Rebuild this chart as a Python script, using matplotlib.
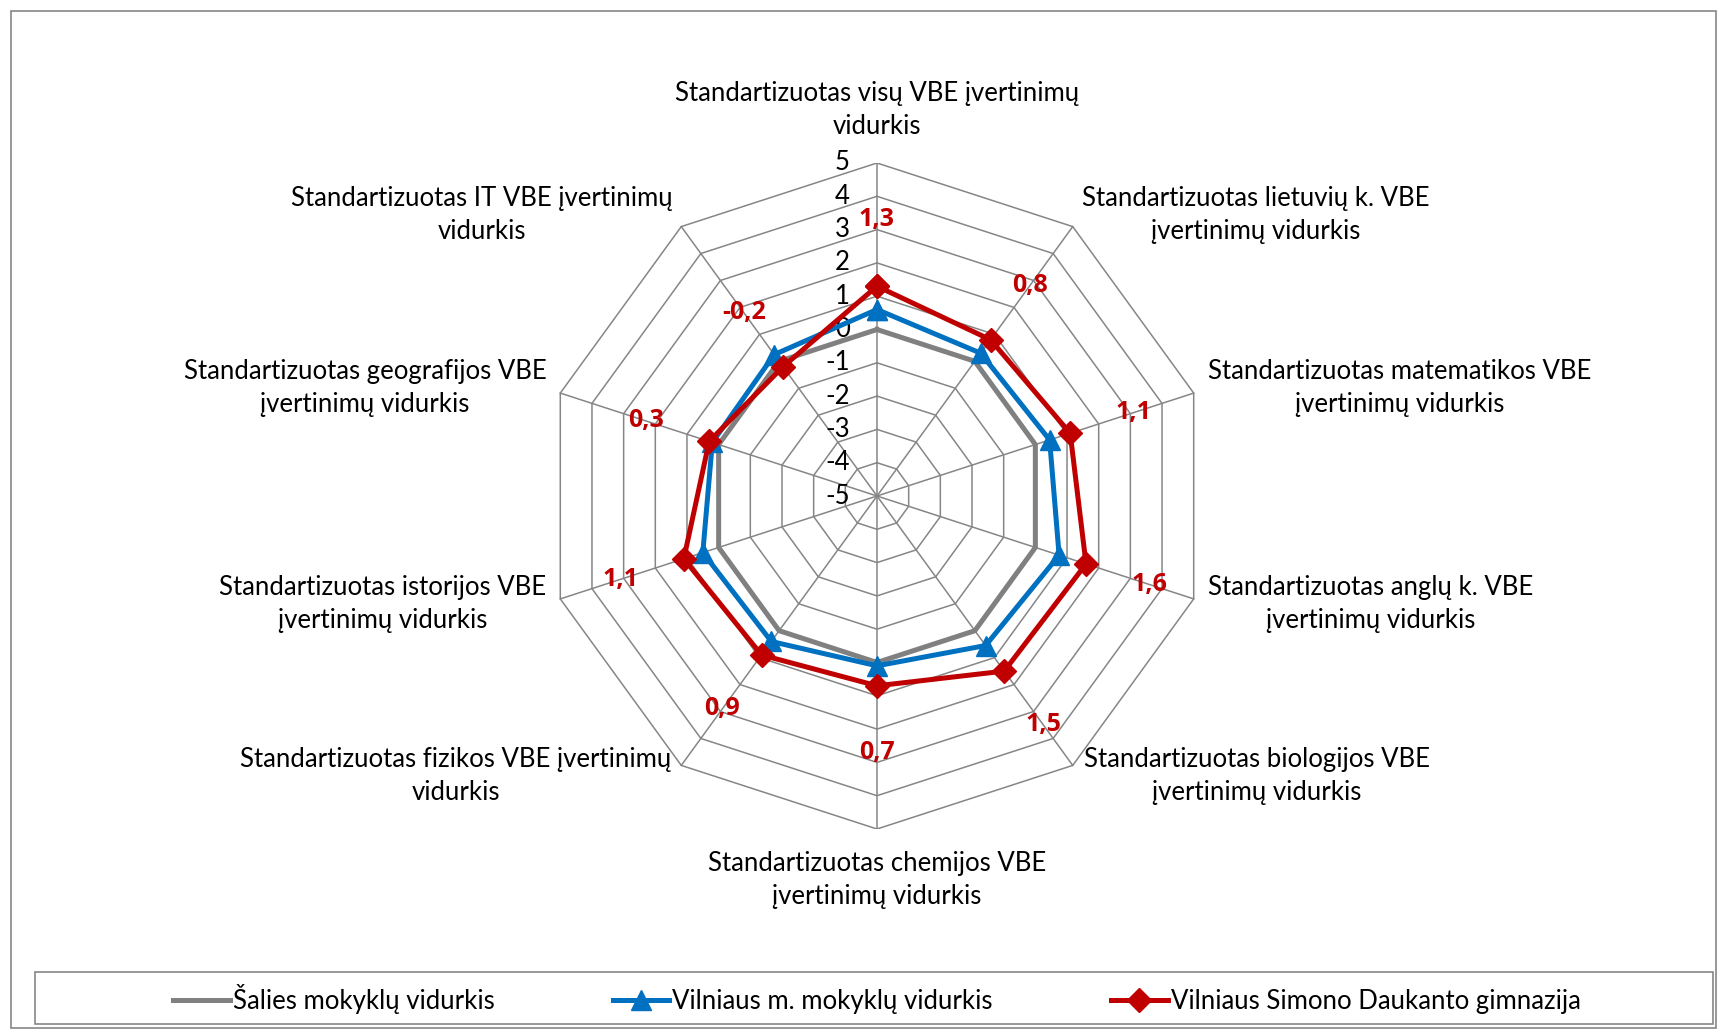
import matplotlib
matplotlib.use("Agg")
import matplotlib.pyplot as plt
from matplotlib.patches import Rectangle
from matplotlib.lines import Line2D
import numpy as np

categories = [
    "Standartizuotas visų VBE įvertinimų\nvidurkis",
    "Standartizuotas lietuvių k. VBE\nįvertinimų vidurkis",
    "Standartizuotas matematikos VBE\nįvertinimų vidurkis",
    "Standartizuotas anglų k. VBE\nįvertinimų vidurkis",
    "Standartizuotas biologijos VBE\nįvertinimų vidurkis",
    "Standartizuotas chemijos VBE\nįvertinimų vidurkis",
    "Standartizuotas fizikos VBE įvertinimų\nvidurkis",
    "Standartizuotas istorijos VBE\nįvertinimų vidurkis",
    "Standartizuotas geografijos VBE\nįvertinimų vidurkis",
    "Standartizuotas IT VBE įvertinimų\nvidurkis",
]
salies = [0, 0, 0, 0, 0, 0, 0, 0, 0, 0]
vilniaus = [0.6, 0.3, 0.45, 0.75, 0.55, 0.1, 0.4, 0.5, 0.2, 0.25]
daukanto = [1.3, 0.8, 1.1, 1.6, 1.5, 0.7, 0.9, 1.1, 0.3, -0.2]
series_names = ["Šalies mokyklų vidurkis", "Vilniaus m. mokyklų vidurkis",
                "Vilniaus Simono Daukanto gimnazija"]
levels = [-5, -4, -3, -2, -1, 0, 1, 2, 3, 4, 5]

plt.rcParams['font.family'] = ['Lato', 'DejaVu Sans']
FS = 18.5
RMIN = -5
GRID = '#868686'

W, H = 1725, 1033
fig = plt.figure(figsize=(W / 100, H / 100), dpi=100)
fig.patch.set_facecolor('white')

# outer chart border and legend frame
fig.add_artist(Rectangle((11 / W, 5 / H), 1705 / W, 1017 / H, transform=fig.transFigure,
                         fill=False, edgecolor=GRID, linewidth=1.2))
fig.add_artist(Rectangle((35 / W, 9 / H), 1678 / W, 52 / H, transform=fig.transFigure,
                         fill=False, edgecolor=GRID, linewidth=1.2))

# radar axes: center (877, 496) px, radius 333 px
cx, cy, R = 877, 496, 333
ax = fig.add_axes([(cx - R) / W, (H - cy - R) / H, 2 * R / W, 2 * R / H])
ax.set_xlim(-10, 10)
ax.set_ylim(-10, 10)
ax.set_aspect('equal')
ax.axis('off')

n = len(categories)
theta = np.arange(n) * 2 * np.pi / n


def to_xy(vals):
    r = np.asarray(vals, dtype=float) - RMIN
    x = r * np.sin(theta)
    y = r * np.cos(theta)
    return np.append(x, x[0]), np.append(y, y[0])


# grid polygons and spokes
for lv in levels[1:]:
    gx, gy = to_xy([lv] * n)
    ax.plot(gx, gy, color=GRID, lw=1.1, zorder=1)
for t in theta:
    ax.plot([0, (levels[-1] - RMIN) * np.sin(t)], [0, (levels[-1] - RMIN) * np.cos(t)],
            color=GRID, lw=1.1, zorder=1)

# radial tick labels
for lv in levels:
    ax.annotate(str(lv), xy=(0, lv - RMIN), xytext=(-27, 0), textcoords='offset pixels',
                ha='right', va='center', fontsize=FS, color='black')

# series
sx, sy = to_xy(salies)
ax.plot(sx, sy, color='#808080', lw=3.6, zorder=3)
bx, by = to_xy(vilniaus)
ax.plot(bx, by, color='#0070C0', lw=3.6, marker='^', markersize=14, zorder=4)
rx, ry = to_xy(daukanto)
ax.plot(rx, ry, color='#C00000', lw=3.6, marker='D', markersize=12, zorder=5)

# data labels for Daukanto series
for t, v in zip(theta, daukanto):
    r = v + 2 - RMIN
    ax.text(r * np.sin(t), r * np.cos(t), f"{v:.1f}".replace('.', ','),
            ha='center', va='center', fontsize=18, fontweight='bold', color='#C00000',
            family=['Open Sans', 'DejaVu Sans'], zorder=6)

# category labels
offsets = [(0, 53, 'center'), (9, 12, 'left'), (14, 5, 'left'), (14, -5, 'left'),
           (11, -11, 'left'), (0, -51, 'center'), (-10, -11, 'right'), (-14, -5, 'right'),
           (-14, 5, 'right'), (-9, 12, 'right')]
for t, lab, (dx, dy, ha) in zip(theta, categories, offsets):
    rr = levels[-1] - RMIN
    ax.annotate(lab, xy=(rr * np.sin(t), rr * np.cos(t)), xytext=(dx, dy),
                textcoords='offset pixels', ha=ha, va='center', multialignment='center',
                linespacing=1.4, fontsize=FS, color='black', annotation_clip=False)

# legend
handles = [Line2D([], [], color='#808080', lw=3.6),
           Line2D([], [], color='#0070C0', lw=3.6, marker='^', markersize=14),
           Line2D([], [], color='#C00000', lw=3.6, marker='D', markersize=12)]
fig.legend(handles, series_names, loc='center', bbox_to_anchor=(877 / W, 34 / H),
           ncol=3, frameon=False, fontsize=FS, handlelength=2.2, handletextpad=0.12,
           columnspacing=4.6)

fig.savefig('out.png', dpi=100, facecolor='white')
